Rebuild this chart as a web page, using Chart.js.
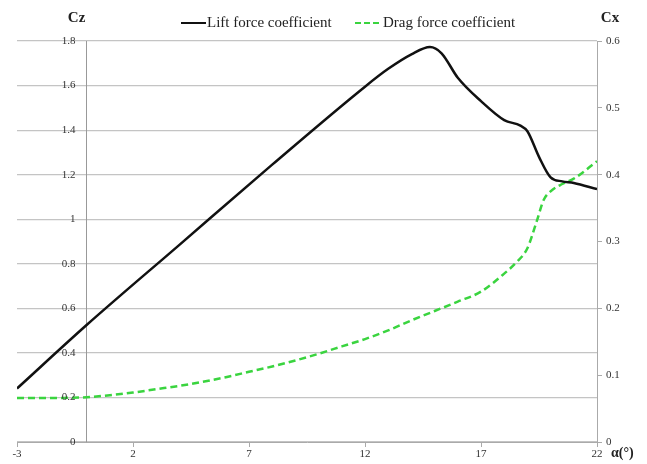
<!DOCTYPE html>
<html>
<head>
<meta charset="utf-8">
<script src="https://cdn.jsdelivr.net/npm/chart.js@4.4.1/dist/chart.umd.min.js"></script>
<style>
  html, body { margin: 0; padding: 0; background: #fff; }
  #wrap { width: 647px; height: 464px; }
</style>
</head>
<body>
<div id="wrap"><canvas id="coefChart"></canvas></div>
<script>
// angle of attack (deg) and coefficients
const alphaLift = [-3, 0, 4, 8, 12, 13, 14, 14.8, 15.3, 16, 17, 18, 18.7, 19, 19.5, 20, 20.5, 21, 22];
const cz = [0.24, 0.525, 0.885, 1.245, 1.595, 1.675, 1.74, 1.773, 1.745, 1.635, 1.53, 1.445, 1.42, 1.395, 1.28, 1.188, 1.17, 1.163, 1.135];

const alphaDrag = [-3, -2, -1, 0, 1, 2, 3, 4, 5, 6, 7, 8, 9, 10, 11, 12, 13, 14, 15, 16, 17, 18, 18.5, 19, 19.4, 19.7, 20, 20.5, 21, 22];
const cx = [0.066, 0.066, 0.066, 0.067, 0.07, 0.074, 0.079, 0.084, 0.09, 0.097, 0.105, 0.113, 0.122, 0.132, 0.143, 0.154, 0.167, 0.182, 0.196, 0.21, 0.225, 0.252, 0.268, 0.29, 0.33, 0.362, 0.375, 0.386, 0.394, 0.42];

const xTicks = [-3, 2, 7, 12, 17, 22];

const serif = "'Liberation Serif', 'Times New Roman', serif";
const fmt = v => String(+v.toFixed(1));

// legend, left tick labels and axis captions (Cz, Cx, alpha)
const captions = {
  id: 'captions',
  afterDraw(chart) {
    const c = chart.ctx;
    const yl = chart.scales.y, yr = chart.scales.y1, xs = chart.scales.x;
    const ds = chart.data.datasets;
    const axisX = xs.getPixelForValue(0);
    c.save();
    c.fillStyle = '#333';
    c.textBaseline = 'middle';
    c.textAlign = 'right';
    c.font = '11px ' + serif;
    yl.ticks.forEach(t => c.fillText(fmt(t.value), axisX - 11, yl.getPixelForValue(t.value)));

    c.fillStyle = '#222';
    c.textAlign = 'center';
    c.font = 'bold 15px ' + serif;
    c.fillText('Cz', axisX - 10, 18);
    c.fillText('Cx', yr.left + 13, 18);
    c.font = 'bold 14px ' + serif;
    c.textAlign = 'left';
    c.fillText('\u03b1(\u00b0)', yr.left + 14, yl.bottom + 11);

    // legend
    c.font = '15px ' + serif;
    c.lineWidth = 2;
    c.strokeStyle = ds[0].borderColor;
    c.beginPath(); c.moveTo(181, 23); c.lineTo(206, 23); c.stroke();
    c.fillText(ds[0].label, 207, 23);
    c.strokeStyle = ds[1].borderColor;
    c.setLineDash([6, 3]);
    c.beginPath(); c.moveTo(355, 23); c.lineTo(379, 23); c.stroke();
    c.setLineDash([]);
    c.fillText(ds[1].label, 383, 23);
    c.restore();
  }
};

const ctx = document.getElementById('coefChart').getContext('2d');

new Chart(ctx, {
  type: 'line',
  data: {
    datasets: [{
      label: 'Lift force coefficient',
      data: alphaLift.map((a, i) => ({ x: a, y: cz[i] })),
      yAxisID: 'y',
      borderColor: '#111',
      borderWidth: 2.5,
      pointRadius: 0,
      cubicInterpolationMode: 'monotone',
      fill: false
    }, {
      label: 'Drag force coefficient',
      data: alphaDrag.map((a, i) => ({ x: a, y: cx[i] })),
      yAxisID: 'y1',
      borderColor: '#3ad43f',
      borderWidth: 2.5,
      borderDash: [7, 4],
      pointRadius: 0,
      cubicInterpolationMode: 'monotone',
      fill: false
    }]
  },
  options: {
    responsive: true,
    maintainAspectRatio: false,
    animation: false,
    layout: { padding: { left: 17, top: 41, right: 0, bottom: 0 } },
    scales: {
      x: {
        type: 'linear',
        min: -3,
        max: 22,
        afterBuildTicks: s => { s.ticks = xTicks.map(v => ({ value: v })); },
        afterFit: s => { s.height = 22; },
        grid: { drawOnChartArea: false, color: '#aaa', tickLength: 5 },
        border: { color: '#aaa' },
        ticks: { color: '#333', font: { family: serif, size: 11 }, padding: 1, maxRotation: 0 }
      },
      y: {
        position: { x: 0 },
        min: 0,
        max: 1.8,
        ticks: { stepSize: 0.2, display: false },
        grid: { color: '#c4c4c4', lineWidth: 1.2, tickLength: 0 },
        border: { color: '#999' }
      },
      y1: {
        position: 'right',
        min: 0,
        max: 0.6,
        afterFit: s => { s.width = 50; },
        ticks: {
          stepSize: 0.1,
          color: '#333',
          font: { family: serif, size: 11 },
          padding: 4,
          callback: fmt
        },
        grid: { drawOnChartArea: false, color: '#aaa', tickLength: 5 },
        border: { color: '#aaa' }
      }
    },
    plugins: {
      legend: { display: false },
      tooltip: { enabled: false }
    }
  },
  plugins: [captions]
});
</script>
</body>
</html>
